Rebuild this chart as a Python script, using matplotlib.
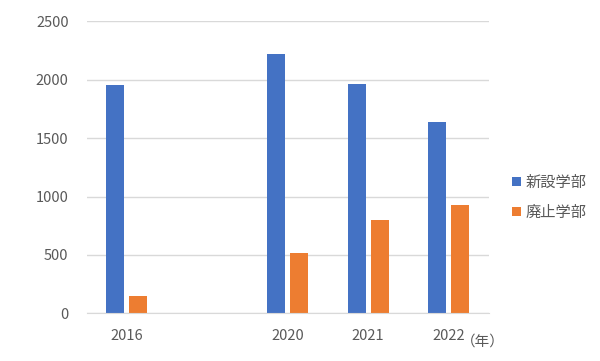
import numpy as np
import matplotlib
matplotlib.use('Agg')
from matplotlib import pyplot as plt

plt.rcParams['font.family'] = ['Noto Sans CJK JP', 'DejaVu Sans']

# data
years = ['2016', '', '2020', '2021', '2022']
new_fac = [1955, np.nan, 2220, 1963, 1638]     # 新設学部
closed_fac = [148, np.nan, 516, 799, 927]      # 廃止学部
series_names = ['新設学部', '廃止学部']

blue = '#4472c4'
orange = '#ed7d31'
grey = '#595959'
gridc = '#d9d9d9'

fig = plt.figure(figsize=(6, 3.61), dpi=100)
ax = fig.add_axes([0.1445, 0.132, 0.6700, 0.809])

x = np.arange(len(years))
w = 0.224
ax.bar(x - 0.143, new_fac, w, color=blue, label=series_names[0])
ax.bar(x + 0.143, closed_fac, w, color=orange, label=series_names[1])

ax.set_xlim(-0.5, len(years) - 0.5)
ax.set_ylim(0, 2500)
ax.set_yticks(range(0, 2501, 500))
ax.set_xticks(x)
ax.set_xticklabels(years)

# grid + spines
ax.grid(axis='y', color=gridc, linewidth=1)
ax.set_axisbelow(True)
for s in ['top', 'right', 'left']:
    ax.spines[s].set_visible(False)
ax.spines['bottom'].set_color(gridc)
ax.tick_params(axis='both', length=0, colors=grey, labelsize=10.5)
ax.tick_params(axis='y', pad=13)
ax.tick_params(axis='x', pad=11)

# unit after last year label
ax.annotate('（年）', xy=(x[-1], 0), xycoords='data', xytext=(9, -20),
            textcoords='offset points', ha='left', va='center',
            color=grey, fontsize=10.5)

fig.legend(loc='center left', bbox_to_anchor=(511.5 / 600, 1 - 197.5 / 361),
           frameon=False, fontsize=11, labelcolor=grey, borderpad=0,
           borderaxespad=0, handlelength=0.6, handleheight=0.6,
           handletextpad=0.3, labelspacing=0.85)

plt.savefig('out.png', dpi=100)
